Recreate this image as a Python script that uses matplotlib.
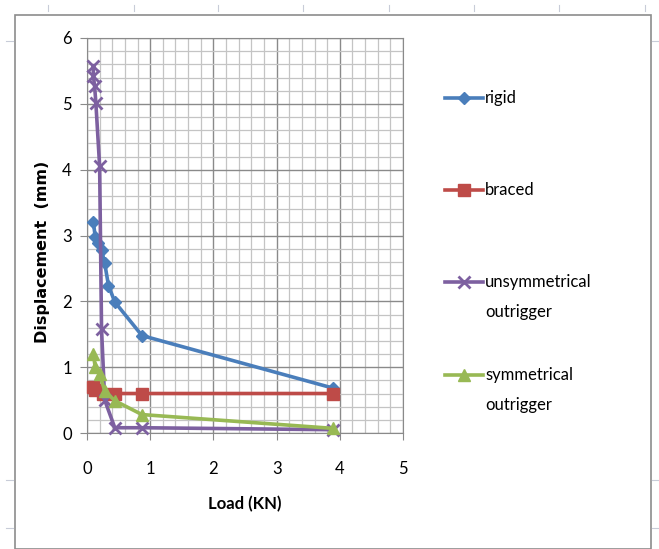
import matplotlib
matplotlib.use("Agg")
import matplotlib.pyplot as plt
from matplotlib.lines import Line2D
from matplotlib.patches import Rectangle
import numpy as np

plt.rcParams['font.family'] = ['Lato', 'DejaVu Sans']

# Data (Load in KN, Displacement in mm)
rigid_x = [0.10, 0.13, 0.18, 0.23, 0.28, 0.34, 0.44, 0.87, 3.90]
rigid_y = [3.21, 2.98, 2.88, 2.78, 2.58, 2.24, 1.99, 1.48, 0.68]

braced_x = [0.10, 0.13, 0.25, 0.44, 0.87, 3.90]
braced_y = [0.70, 0.65, 0.60, 0.60, 0.60, 0.60]

unsym_x = [0.10, 0.10, 0.12, 0.14, 0.20, 0.23, 0.28, 0.44, 0.87, 3.90]
unsym_y = [5.58, 5.43, 5.27, 5.02, 4.05, 1.58, 0.50, 0.08, 0.08, 0.05]

sym_x = [0.10, 0.13, 0.20, 0.28, 0.44, 0.87, 3.90]
sym_y = [1.20, 1.00, 0.90, 0.64, 0.49, 0.28, 0.07]

series = [
    ("rigid", rigid_x, rigid_y, "#4A7EBB", "D", 6),
    ("braced", braced_x, braced_y, "#BE4B48", "s", 9),
    ("unsymmetrical\noutrigger", unsym_x, unsym_y, "#7D60A0", "x", 9),
    ("symmetrical\noutrigger", sym_x, sym_y, "#98B954", "^", 9),
]

W, H = 659, 549
fig = plt.figure(figsize=(W / 100, H / 100), dpi=100)

def fx(px):
    return px / W

def fy(py):
    return 1 - py / H

# Excel background cell ticks
for xp in [48, 134, 218, 303, 389, 474, 559, 645]:
    fig.add_artist(Line2D([fx(xp), fx(xp)], [fy(5), fy(11)], color="#C8CCD8", lw=0.8))
for yp in [41, 480, 528]:
    fig.add_artist(Line2D([fx(6), fx(13)], [fy(yp), fy(yp)], color="#C8CCD8", lw=0.8))
    fig.add_artist(Line2D([fx(652), fx(659)], [fy(yp), fy(yp)], color="#C8CCD8", lw=0.8))

# Chart border
fig.add_artist(Rectangle((fx(15), fy(549)), fx(651) - fx(15), fy(15) - fy(549),
                         fill=False, edgecolor="#8C8C8C", lw=1.2, transform=fig.transFigure))

ax = fig.add_axes([fx(87), fy(433), fx(403) - fx(87), fy(38) - fy(433)])
ax.set_xlim(0, 5)
ax.set_ylim(0, 6)
ax.set_xticks(np.arange(0, 6, 1))
ax.set_yticks(np.arange(0, 7, 1))
ax.set_xticks(np.arange(0, 5.01, 0.2), minor=True)
ax.set_yticks(np.arange(0, 6.01, 0.2), minor=True)
ax.grid(which="minor", color="#C4C4C4", lw=0.9)
ax.grid(which="major", color="#8A8A8A", lw=1.0)
ax.set_axisbelow(True)
for s in ax.spines.values():
    s.set_color("#8A8A8A")
ax.tick_params(which="major", length=5, color="#8A8A8A", labelsize=12)
ax.tick_params(axis="y", pad=6)
ax.tick_params(axis="x", pad=15)
ax.tick_params(which="minor", length=0)

for name, xs, ys, c, m, ms in series:
    ax.plot(xs, ys, color=c, lw=2.6, marker=m, markersize=ms, mew=2 if m == "x" else 1,
            mec=c, mfc=c, clip_on=False, zorder=3)

ax.set_xlabel("Load (KN)", fontsize=12, fontweight="bold", labelpad=14)
ax.set_ylabel("Displacement  (mm)", fontsize=11.5, fontweight="bold",
              family="DejaVu Sans")
ax.yaxis.set_label_coords(-0.117, 0.458)

# Legend (manual layout)
leg_y = [98, 190, 282, 375]
for (name, xs, ys, c, m, ms), yp in zip(series, leg_y):
    fig.add_artist(Line2D([fx(445), fx(483)], [fy(yp), fy(yp)], color=c, lw=2.6))
    fig.add_artist(Line2D([fx(464)], [fy(yp)], color=c, marker=m, markersize=ms,
                          mew=2 if m == "x" else 1, mec=c, mfc=c, lw=0))
    for i, ln in enumerate(name.split("\n")):
        fig.text(fx(485), fy(yp + 30 * i), ln, fontsize=12, va="center", ha="left")

fig.savefig("out.png", dpi=100)
